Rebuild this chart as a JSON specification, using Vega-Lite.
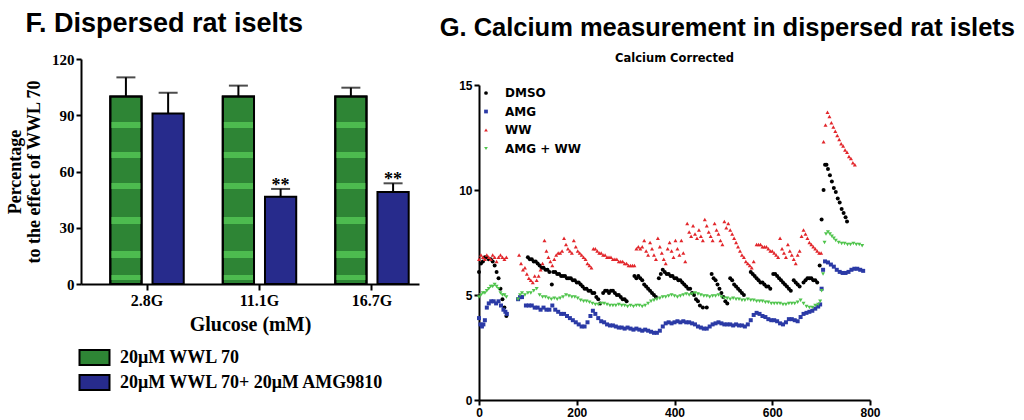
{
"$schema": "https://vega.github.io/schema/vega-lite/v6.json",
"background": "white",
"padding": {"left": 6, "top": 10, "right": 0, "bottom": 0},
"spacing": 20,
"columns": 2,
"align": "none",
"resolve": {"scale": {"color": "independent", "shape": "independent"}, "legend": {"color": "independent", "shape": "independent"}},
"config": {"view": {"stroke": null}, "axis": {"grid": false, "domainColor": "black", "tickColor": "black", "labelColor": "black", "titleColor": "black", "domainWidth": 2, "tickWidth": 2}},
"datasets": {
"bars": [
{"glucose": "2.8G", "treat": "20μM WWL 70", "v": 100, "hi": 110.2, "star": ""},
{"glucose": "2.8G", "treat": "20μM WWL 70+ 20μM AMG9810", "v": 91, "hi": 102, "star": ""},
{"glucose": "11.1G", "treat": "20μM WWL 70", "v": 100, "hi": 105.8, "star": ""},
{"glucose": "11.1G", "treat": "20μM WWL 70+ 20μM AMG9810", "v": 46.6, "hi": 50.7, "star": "**"},
{"glucose": "16.7G", "treat": "20μM WWL 70", "v": 100, "hi": 104.7, "star": ""},
{"glucose": "16.7G", "treat": "20μM WWL 70+ 20μM AMG9810", "v": 49.1, "hi": 53.7, "star": "**"}
],
"sub": [{"label": "Calcium Corrected"}],
"ca": [
{"s":"DMSO","t":0,"v":6.1},{"s":"DMSO","t":4,"v":6.5},{"s":"DMSO","t":8,"v":6.6},{"s":"DMSO","t":12,"v":6.8},{"s":"DMSO","t":16,"v":6.8},{"s":"DMSO","t":20,"v":6.7},{"s":"DMSO","t":24,"v":6.7},{"s":"DMSO","t":28,"v":6.6},{"s":"DMSO","t":32,"v":6.4},{"s":"DMSO","t":36,"v":6.1},{"s":"DMSO","t":40,"v":5.8},{"s":"DMSO","t":44,"v":5.3},{"s":"DMSO","t":48,"v":4.8},{"s":"DMSO","t":52,"v":4.4},{"s":"DMSO","t":56,"v":4.0},
{"s":"DMSO","t":100,"v":6.8},{"s":"DMSO","t":104,"v":6.7},{"s":"DMSO","t":108,"v":6.7},{"s":"DMSO","t":112,"v":6.6},{"s":"DMSO","t":116,"v":6.6},{"s":"DMSO","t":120,"v":6.5},{"s":"DMSO","t":124,"v":6.4},{"s":"DMSO","t":128,"v":6.3},{"s":"DMSO","t":132,"v":6.3},{"s":"DMSO","t":136,"v":6.2},{"s":"DMSO","t":140,"v":6.2},{"s":"DMSO","t":144,"v":6.1},{"s":"DMSO","t":149,"v":5.5},{"s":"DMSO","t":152,"v":6.1},{"s":"DMSO","t":156,"v":6.1},{"s":"DMSO","t":160,"v":6.0},{"s":"DMSO","t":164,"v":6.0},{"s":"DMSO","t":168,"v":5.9},{"s":"DMSO","t":172,"v":5.9},{"s":"DMSO","t":176,"v":5.9},{"s":"DMSO","t":180,"v":5.8},{"s":"DMSO","t":184,"v":5.8},{"s":"DMSO","t":188,"v":5.8},{"s":"DMSO","t":192,"v":5.7},{"s":"DMSO","t":196,"v":5.7},{"s":"DMSO","t":200,"v":5.6},{"s":"DMSO","t":204,"v":5.6},{"s":"DMSO","t":208,"v":5.5},{"s":"DMSO","t":212,"v":5.4},{"s":"DMSO","t":216,"v":5.3},{"s":"DMSO","t":220,"v":5.3},{"s":"DMSO","t":224,"v":5.2},{"s":"DMSO","t":228,"v":5.2},{"s":"DMSO","t":232,"v":5.1},{"s":"DMSO","t":236,"v":5.1},{"s":"DMSO","t":240,"v":4.9},{"s":"DMSO","t":244,"v":4.8},{"s":"DMSO","t":248,"v":4.6},
{"s":"DMSO","t":254,"v":5.1},{"s":"DMSO","t":258,"v":5.2},{"s":"DMSO","t":262,"v":5.2},{"s":"DMSO","t":266,"v":5.1},{"s":"DMSO","t":270,"v":5.2},{"s":"DMSO","t":274,"v":5.2},{"s":"DMSO","t":278,"v":5.1},{"s":"DMSO","t":282,"v":5.0},{"s":"DMSO","t":286,"v":5.0},{"s":"DMSO","t":290,"v":4.9},{"s":"DMSO","t":294,"v":4.8},{"s":"DMSO","t":298,"v":4.8},{"s":"DMSO","t":302,"v":4.7},
{"s":"DMSO","t":318,"v":5.9},{"s":"DMSO","t":322,"v":5.8},{"s":"DMSO","t":326,"v":5.9},{"s":"DMSO","t":330,"v":5.8},{"s":"DMSO","t":334,"v":5.7},{"s":"DMSO","t":338,"v":5.5},{"s":"DMSO","t":342,"v":5.4},{"s":"DMSO","t":346,"v":5.3},{"s":"DMSO","t":350,"v":5.2},{"s":"DMSO","t":354,"v":5.1},{"s":"DMSO","t":358,"v":5.0},{"s":"DMSO","t":362,"v":4.9},
{"s":"DMSO","t":368,"v":5.8},{"s":"DMSO","t":372,"v":6.0},{"s":"DMSO","t":376,"v":6.2},{"s":"DMSO","t":380,"v":6.1},{"s":"DMSO","t":384,"v":6.0},{"s":"DMSO","t":388,"v":6.0},{"s":"DMSO","t":392,"v":5.9},{"s":"DMSO","t":396,"v":5.9},{"s":"DMSO","t":400,"v":5.8},{"s":"DMSO","t":404,"v":5.8},{"s":"DMSO","t":408,"v":5.7},{"s":"DMSO","t":412,"v":5.7},{"s":"DMSO","t":416,"v":5.6},{"s":"DMSO","t":420,"v":5.5},{"s":"DMSO","t":424,"v":5.4},{"s":"DMSO","t":428,"v":5.3},{"s":"DMSO","t":432,"v":5.3},{"s":"DMSO","t":436,"v":5.1},{"s":"DMSO","t":440,"v":5.0},{"s":"DMSO","t":444,"v":4.8},{"s":"DMSO","t":448,"v":4.7},{"s":"DMSO","t":452,"v":4.5},{"s":"DMSO","t":458,"v":4.4},{"s":"DMSO","t":466,"v":4.4},
{"s":"DMSO","t":476,"v":6.0},{"s":"DMSO","t":480,"v":5.8},{"s":"DMSO","t":484,"v":5.7},{"s":"DMSO","t":488,"v":5.5},{"s":"DMSO","t":492,"v":5.3},{"s":"DMSO","t":496,"v":5.1},{"s":"DMSO","t":500,"v":4.9},{"s":"DMSO","t":504,"v":4.7},{"s":"DMSO","t":508,"v":4.6},
{"s":"DMSO","t":514,"v":5.8},{"s":"DMSO","t":518,"v":5.7},{"s":"DMSO","t":522,"v":5.5},{"s":"DMSO","t":526,"v":5.4},{"s":"DMSO","t":530,"v":5.3},{"s":"DMSO","t":534,"v":5.2},{"s":"DMSO","t":538,"v":5.1},{"s":"DMSO","t":542,"v":5.0},
{"s":"DMSO","t":556,"v":6.1},{"s":"DMSO","t":560,"v":6.0},{"s":"DMSO","t":564,"v":5.9},{"s":"DMSO","t":568,"v":5.8},{"s":"DMSO","t":572,"v":5.7},{"s":"DMSO","t":576,"v":5.6},{"s":"DMSO","t":580,"v":5.6},{"s":"DMSO","t":584,"v":5.5},{"s":"DMSO","t":588,"v":5.4},{"s":"DMSO","t":592,"v":5.4},{"s":"DMSO","t":596,"v":5.3},
{"s":"DMSO","t":602,"v":6.0},{"s":"DMSO","t":606,"v":6.0},{"s":"DMSO","t":610,"v":5.9},{"s":"DMSO","t":614,"v":5.8},{"s":"DMSO","t":618,"v":5.7},{"s":"DMSO","t":622,"v":5.6},{"s":"DMSO","t":626,"v":5.5},{"s":"DMSO","t":630,"v":5.4},{"s":"DMSO","t":634,"v":5.3},{"s":"DMSO","t":638,"v":5.2},
{"s":"DMSO","t":644,"v":5.7},{"s":"DMSO","t":648,"v":5.6},{"s":"DMSO","t":652,"v":5.5},{"s":"DMSO","t":656,"v":5.4},
{"s":"DMSO","t":664,"v":5.6},{"s":"DMSO","t":668,"v":5.7},{"s":"DMSO","t":672,"v":5.8},{"s":"DMSO","t":676,"v":5.8},{"s":"DMSO","t":680,"v":5.8},{"s":"DMSO","t":684,"v":5.7},{"s":"DMSO","t":688,"v":5.7},{"s":"DMSO","t":692,"v":5.6},
{"s":"DMSO","t":697,"v":6.4},{"s":"DMSO","t":701,"v":8.6},{"s":"DMSO","t":705,"v":10.0},{"s":"DMSO","t":708,"v":11.2},{"s":"DMSO","t":711,"v":11.2},{"s":"DMSO","t":714,"v":11.0},{"s":"DMSO","t":718,"v":10.7},{"s":"DMSO","t":722,"v":10.4},{"s":"DMSO","t":726,"v":10.1},{"s":"DMSO","t":730,"v":9.9},{"s":"DMSO","t":734,"v":9.6},{"s":"DMSO","t":738,"v":9.4},{"s":"DMSO","t":742,"v":9.1},{"s":"DMSO","t":746,"v":8.9},{"s":"DMSO","t":750,"v":8.7},{"s":"DMSO","t":753,"v":8.5},

{"s":"AMG","t":0,"v":3.9},{"s":"AMG","t":3,"v":3.6},{"s":"AMG","t":6,"v":3.5},{"s":"AMG","t":9,"v":3.6},{"s":"AMG","t":12,"v":3.8},{"s":"AMG","t":16,"v":4.4},{"s":"AMG","t":20,"v":4.6},{"s":"AMG","t":25,"v":4.7},{"s":"AMG","t":30,"v":4.7},{"s":"AMG","t":35,"v":4.6},{"s":"AMG","t":40,"v":4.7},{"s":"AMG","t":45,"v":4.5},{"s":"AMG","t":50,"v":4.3},{"s":"AMG","t":54,"v":4.2},{"s":"AMG","t":57,"v":4.1},
{"s":"AMG","t":80,"v":4.8},{"s":"AMG","t":84,"v":4.9},{"s":"AMG","t":88,"v":4.9},
{"s":"AMG","t":96,"v":4.5},{"s":"AMG","t":102,"v":4.5},{"s":"AMG","t":108,"v":4.5},{"s":"AMG","t":114,"v":4.4},{"s":"AMG","t":120,"v":4.4},{"s":"AMG","t":126,"v":4.3},{"s":"AMG","t":132,"v":4.4},{"s":"AMG","t":138,"v":4.3},{"s":"AMG","t":144,"v":4.3},{"s":"AMG","t":150,"v":4.5},{"s":"AMG","t":156,"v":4.3},{"s":"AMG","t":162,"v":4.2},{"s":"AMG","t":168,"v":4.1},{"s":"AMG","t":174,"v":4.1},{"s":"AMG","t":180,"v":4.0},{"s":"AMG","t":186,"v":3.9},{"s":"AMG","t":192,"v":3.8},{"s":"AMG","t":198,"v":3.7},{"s":"AMG","t":204,"v":3.6},{"s":"AMG","t":210,"v":3.5},{"s":"AMG","t":216,"v":3.5},{"s":"AMG","t":222,"v":3.7},{"s":"AMG","t":228,"v":4.0},{"s":"AMG","t":233,"v":4.25},{"s":"AMG","t":238,"v":4.1},{"s":"AMG","t":244,"v":3.9},{"s":"AMG","t":250,"v":3.75},{"s":"AMG","t":256,"v":3.7},{"s":"AMG","t":262,"v":3.6},{"s":"AMG","t":268,"v":3.55},{"s":"AMG","t":274,"v":3.55},{"s":"AMG","t":280,"v":3.5},{"s":"AMG","t":286,"v":3.45},{"s":"AMG","t":292,"v":3.45},{"s":"AMG","t":298,"v":3.4},{"s":"AMG","t":304,"v":3.45},{"s":"AMG","t":310,"v":3.4},{"s":"AMG","t":316,"v":3.35},{"s":"AMG","t":322,"v":3.4},{"s":"AMG","t":328,"v":3.35},{"s":"AMG","t":334,"v":3.3},{"s":"AMG","t":340,"v":3.35},{"s":"AMG","t":346,"v":3.3},{"s":"AMG","t":352,"v":3.25},{"s":"AMG","t":358,"v":3.2},{"s":"AMG","t":364,"v":3.2},{"s":"AMG","t":370,"v":3.3},{"s":"AMG","t":376,"v":3.5},{"s":"AMG","t":382,"v":3.65},{"s":"AMG","t":388,"v":3.7},{"s":"AMG","t":394,"v":3.65},{"s":"AMG","t":400,"v":3.7},{"s":"AMG","t":406,"v":3.75},{"s":"AMG","t":412,"v":3.7},{"s":"AMG","t":418,"v":3.75},{"s":"AMG","t":424,"v":3.7},{"s":"AMG","t":430,"v":3.7},{"s":"AMG","t":436,"v":3.65},{"s":"AMG","t":442,"v":3.6},{"s":"AMG","t":448,"v":3.5},{"s":"AMG","t":454,"v":3.45},{"s":"AMG","t":460,"v":3.4},{"s":"AMG","t":466,"v":3.4},{"s":"AMG","t":472,"v":3.5},{"s":"AMG","t":478,"v":3.6},{"s":"AMG","t":484,"v":3.65},{"s":"AMG","t":490,"v":3.7},{"s":"AMG","t":496,"v":3.65},{"s":"AMG","t":502,"v":3.6},{"s":"AMG","t":508,"v":3.6},{"s":"AMG","t":514,"v":3.6},{"s":"AMG","t":520,"v":3.55},{"s":"AMG","t":526,"v":3.6},{"s":"AMG","t":532,"v":3.55},{"s":"AMG","t":538,"v":3.55},{"s":"AMG","t":544,"v":3.5},{"s":"AMG","t":550,"v":3.6},{"s":"AMG","t":556,"v":3.8},{"s":"AMG","t":562,"v":4.05},{"s":"AMG","t":568,"v":4.15},{"s":"AMG","t":574,"v":4.1},{"s":"AMG","t":580,"v":4.0},{"s":"AMG","t":586,"v":3.95},{"s":"AMG","t":592,"v":3.85},{"s":"AMG","t":598,"v":3.8},{"s":"AMG","t":604,"v":3.8},{"s":"AMG","t":610,"v":3.75},{"s":"AMG","t":616,"v":3.65},{"s":"AMG","t":622,"v":3.6},{"s":"AMG","t":628,"v":3.7},{"s":"AMG","t":634,"v":3.85},{"s":"AMG","t":640,"v":3.85},{"s":"AMG","t":646,"v":3.8},{"s":"AMG","t":652,"v":3.75},{"s":"AMG","t":658,"v":3.95},{"s":"AMG","t":664,"v":4.1},{"s":"AMG","t":670,"v":4.15},{"s":"AMG","t":676,"v":4.2},{"s":"AMG","t":682,"v":4.25},{"s":"AMG","t":688,"v":4.35},{"s":"AMG","t":694,"v":4.45},{"s":"AMG","t":698,"v":4.55},{"s":"AMG","t":701,"v":5.3},{"s":"AMG","t":704,"v":6.2},{"s":"AMG","t":708,"v":6.6},{"s":"AMG","t":714,"v":6.55},{"s":"AMG","t":720,"v":6.45},{"s":"AMG","t":726,"v":6.35},{"s":"AMG","t":732,"v":6.2},{"s":"AMG","t":738,"v":6.1},{"s":"AMG","t":744,"v":6.05},{"s":"AMG","t":750,"v":6.05},{"s":"AMG","t":756,"v":6.1},{"s":"AMG","t":762,"v":6.2},{"s":"AMG","t":768,"v":6.25},{"s":"AMG","t":774,"v":6.25},{"s":"AMG","t":780,"v":6.2},{"s":"AMG","t":786,"v":6.15},

{"s":"WW","t":0,"v":6.7},{"s":"WW","t":4,"v":6.9},{"s":"WW","t":8,"v":6.8},{"s":"WW","t":12,"v":6.7},{"s":"WW","t":16,"v":6.9},{"s":"WW","t":20,"v":6.8},{"s":"WW","t":24,"v":6.7},{"s":"WW","t":28,"v":6.9},{"s":"WW","t":32,"v":6.8},{"s":"WW","t":36,"v":6.6},{"s":"WW","t":40,"v":6.8},{"s":"WW","t":44,"v":6.9},{"s":"WW","t":48,"v":6.8},{"s":"WW","t":52,"v":6.7},{"s":"WW","t":56,"v":6.8},
{"s":"WW","t":82,"v":6.9},{"s":"WW","t":86,"v":6.5},{"s":"WW","t":90,"v":6.2},{"s":"WW","t":94,"v":6.3},{"s":"WW","t":98,"v":6.0},{"s":"WW","t":102,"v":5.8},{"s":"WW","t":106,"v":5.7},{"s":"WW","t":110,"v":5.6},{"s":"WW","t":114,"v":5.9},{"s":"WW","t":118,"v":5.7},{"s":"WW","t":122,"v":5.9},
{"s":"WW","t":126,"v":6.2},{"s":"WW","t":130,"v":6.5},{"s":"WW","t":134,"v":7.6},{"s":"WW","t":138,"v":7.1},{"s":"WW","t":142,"v":6.8},{"s":"WW","t":146,"v":6.6},{"s":"WW","t":150,"v":6.4},{"s":"WW","t":154,"v":6.7},{"s":"WW","t":158,"v":6.9},{"s":"WW","t":162,"v":7.0},{"s":"WW","t":166,"v":7.0},{"s":"WW","t":170,"v":7.1},{"s":"WW","t":174,"v":7.7},{"s":"WW","t":178,"v":7.4},{"s":"WW","t":182,"v":7.2},{"s":"WW","t":186,"v":7.1},{"s":"WW","t":190,"v":7.0},{"s":"WW","t":194,"v":7.6},{"s":"WW","t":198,"v":7.3},{"s":"WW","t":202,"v":7.1},{"s":"WW","t":206,"v":7.0},{"s":"WW","t":210,"v":6.9},{"s":"WW","t":214,"v":6.8},{"s":"WW","t":218,"v":6.7},{"s":"WW","t":222,"v":6.5},{"s":"WW","t":226,"v":6.4},{"s":"WW","t":230,"v":6.3},
{"s":"WW","t":234,"v":7.2},{"s":"WW","t":238,"v":7.2},{"s":"WW","t":242,"v":7.1},{"s":"WW","t":246,"v":7.0},{"s":"WW","t":250,"v":7.0},{"s":"WW","t":254,"v":6.9},{"s":"WW","t":258,"v":6.9},{"s":"WW","t":262,"v":6.8},{"s":"WW","t":266,"v":6.8},{"s":"WW","t":270,"v":6.8},{"s":"WW","t":274,"v":6.7},{"s":"WW","t":278,"v":6.7},{"s":"WW","t":282,"v":6.7},{"s":"WW","t":286,"v":6.6},{"s":"WW","t":290,"v":6.6},{"s":"WW","t":294,"v":6.6},{"s":"WW","t":298,"v":6.5},{"s":"WW","t":302,"v":6.5},{"s":"WW","t":306,"v":6.4},{"s":"WW","t":310,"v":6.4},{"s":"WW","t":314,"v":6.4},{"s":"WW","t":318,"v":6.4},
{"s":"WW","t":322,"v":7.2},{"s":"WW","t":326,"v":7.3},{"s":"WW","t":330,"v":7.2},{"s":"WW","t":334,"v":7.3},{"s":"WW","t":338,"v":7.6},{"s":"WW","t":342,"v":7.1},{"s":"WW","t":346,"v":6.9},{"s":"WW","t":350,"v":7.5},{"s":"WW","t":354,"v":7.2},{"s":"WW","t":358,"v":6.9},{"s":"WW","t":362,"v":6.7},{"s":"WW","t":366,"v":7.7},{"s":"WW","t":370,"v":7.3},{"s":"WW","t":374,"v":7.0},{"s":"WW","t":378,"v":6.7},{"s":"WW","t":382,"v":6.5},{"s":"WW","t":386,"v":7.2},{"s":"WW","t":390,"v":7.5},{"s":"WW","t":394,"v":7.1},{"s":"WW","t":398,"v":6.8},{"s":"WW","t":402,"v":7.6},{"s":"WW","t":406,"v":7.2},{"s":"WW","t":410,"v":6.9},{"s":"WW","t":414,"v":7.6},{"s":"WW","t":418,"v":7.0},{"s":"WW","t":422,"v":6.6},
{"s":"WW","t":426,"v":8.4},{"s":"WW","t":430,"v":8.0},{"s":"WW","t":434,"v":7.8},{"s":"WW","t":438,"v":8.3},{"s":"WW","t":442,"v":7.9},{"s":"WW","t":446,"v":7.7},{"s":"WW","t":450,"v":8.1},{"s":"WW","t":454,"v":7.8},{"s":"WW","t":458,"v":7.6},{"s":"WW","t":462,"v":8.6},{"s":"WW","t":466,"v":8.3},{"s":"WW","t":470,"v":8.0},{"s":"WW","t":474,"v":7.8},{"s":"WW","t":478,"v":7.6},{"s":"WW","t":482,"v":8.4},{"s":"WW","t":486,"v":8.1},{"s":"WW","t":490,"v":7.9},{"s":"WW","t":494,"v":7.6},{"s":"WW","t":498,"v":7.4},{"s":"WW","t":502,"v":8.5},{"s":"WW","t":506,"v":8.2},{"s":"WW","t":510,"v":8.4},{"s":"WW","t":514,"v":8.1},{"s":"WW","t":518,"v":7.9},{"s":"WW","t":522,"v":7.7},{"s":"WW","t":526,"v":7.5},{"s":"WW","t":530,"v":7.3},{"s":"WW","t":534,"v":7.1},{"s":"WW","t":538,"v":6.9},{"s":"WW","t":542,"v":6.8},{"s":"WW","t":546,"v":6.6},{"s":"WW","t":550,"v":6.5},{"s":"WW","t":554,"v":6.4},{"s":"WW","t":558,"v":6.3},{"s":"WW","t":562,"v":6.6},
{"s":"WW","t":568,"v":7.4},{"s":"WW","t":572,"v":7.4},{"s":"WW","t":576,"v":7.4},{"s":"WW","t":580,"v":7.3},{"s":"WW","t":584,"v":7.3},{"s":"WW","t":588,"v":7.3},{"s":"WW","t":592,"v":7.2},{"s":"WW","t":596,"v":7.1},{"s":"WW","t":600,"v":7.1},{"s":"WW","t":604,"v":7.0},{"s":"WW","t":608,"v":6.9},{"s":"WW","t":612,"v":6.8},{"s":"WW","t":616,"v":7.7},{"s":"WW","t":620,"v":7.2},{"s":"WW","t":624,"v":7.0},{"s":"WW","t":628,"v":6.8},{"s":"WW","t":632,"v":7.4},{"s":"WW","t":636,"v":7.1},{"s":"WW","t":640,"v":6.9},{"s":"WW","t":644,"v":6.7},{"s":"WW","t":648,"v":6.5},{"s":"WW","t":652,"v":6.9},{"s":"WW","t":656,"v":7.1},{"s":"WW","t":660,"v":7.8},{"s":"WW","t":664,"v":8.1},{"s":"WW","t":668,"v":7.9},{"s":"WW","t":672,"v":7.7},{"s":"WW","t":676,"v":7.5},{"s":"WW","t":680,"v":7.4},{"s":"WW","t":684,"v":7.3},{"s":"WW","t":688,"v":7.2},{"s":"WW","t":692,"v":7.1},{"s":"WW","t":696,"v":7.0},{"s":"WW","t":700,"v":7.0},
{"s":"WW","t":705,"v":12.3},{"s":"WW","t":709,"v":13.1},{"s":"WW","t":713,"v":13.7},{"s":"WW","t":717,"v":13.5},{"s":"WW","t":721,"v":13.2},{"s":"WW","t":725,"v":13.0},{"s":"WW","t":729,"v":12.8},{"s":"WW","t":733,"v":12.6},{"s":"WW","t":737,"v":12.4},{"s":"WW","t":741,"v":12.2},{"s":"WW","t":745,"v":12.1},{"s":"WW","t":749,"v":11.9},{"s":"WW","t":753,"v":11.8},{"s":"WW","t":757,"v":11.6},{"s":"WW","t":761,"v":11.5},{"s":"WW","t":765,"v":11.3},{"s":"WW","t":769,"v":11.2},

{"s":"AMG + WW","t":0,"v":4.9},{"s":"AMG + WW","t":4,"v":5.0},{"s":"AMG + WW","t":8,"v":5.1},{"s":"AMG + WW","t":12,"v":5.1},{"s":"AMG + WW","t":16,"v":5.2},{"s":"AMG + WW","t":20,"v":5.3},{"s":"AMG + WW","t":24,"v":5.4},{"s":"AMG + WW","t":28,"v":5.4},{"s":"AMG + WW","t":32,"v":5.5},{"s":"AMG + WW","t":36,"v":5.4},{"s":"AMG + WW","t":40,"v":5.3},{"s":"AMG + WW","t":44,"v":5.1},{"s":"AMG + WW","t":48,"v":5.0},{"s":"AMG + WW","t":52,"v":5.0},{"s":"AMG + WW","t":56,"v":4.9},
{"s":"AMG + WW","t":80,"v":4.8},{"s":"AMG + WW","t":84,"v":5.0},{"s":"AMG + WW","t":88,"v":5.1},{"s":"AMG + WW","t":94,"v":5.0},{"s":"AMG + WW","t":100,"v":5.1},{"s":"AMG + WW","t":106,"v":5.1},{"s":"AMG + WW","t":112,"v":5.2},{"s":"AMG + WW","t":118,"v":5.3},{"s":"AMG + WW","t":124,"v":5.0},{"s":"AMG + WW","t":130,"v":4.9},{"s":"AMG + WW","t":136,"v":4.9},{"s":"AMG + WW","t":142,"v":4.85},{"s":"AMG + WW","t":148,"v":4.8},{"s":"AMG + WW","t":154,"v":4.85},{"s":"AMG + WW","t":160,"v":4.8},{"s":"AMG + WW","t":166,"v":4.85},{"s":"AMG + WW","t":172,"v":4.9},{"s":"AMG + WW","t":178,"v":5.0},{"s":"AMG + WW","t":184,"v":4.95},{"s":"AMG + WW","t":190,"v":4.9},{"s":"AMG + WW","t":196,"v":4.9},{"s":"AMG + WW","t":202,"v":4.85},{"s":"AMG + WW","t":208,"v":4.75},{"s":"AMG + WW","t":214,"v":4.7},{"s":"AMG + WW","t":220,"v":4.7},{"s":"AMG + WW","t":226,"v":4.65},{"s":"AMG + WW","t":232,"v":4.6},{"s":"AMG + WW","t":238,"v":4.55},{"s":"AMG + WW","t":244,"v":4.55},{"s":"AMG + WW","t":250,"v":4.6},{"s":"AMG + WW","t":256,"v":4.6},{"s":"AMG + WW","t":262,"v":4.55},{"s":"AMG + WW","t":268,"v":4.5},{"s":"AMG + WW","t":274,"v":4.5},{"s":"AMG + WW","t":280,"v":4.5},{"s":"AMG + WW","t":286,"v":4.55},{"s":"AMG + WW","t":292,"v":4.5},{"s":"AMG + WW","t":298,"v":4.5},{"s":"AMG + WW","t":304,"v":4.45},{"s":"AMG + WW","t":310,"v":4.5},{"s":"AMG + WW","t":316,"v":4.45},{"s":"AMG + WW","t":322,"v":4.5},{"s":"AMG + WW","t":328,"v":4.5},{"s":"AMG + WW","t":334,"v":4.45},{"s":"AMG + WW","t":340,"v":4.5},{"s":"AMG + WW","t":346,"v":4.6},{"s":"AMG + WW","t":352,"v":4.7},{"s":"AMG + WW","t":358,"v":4.75},{"s":"AMG + WW","t":364,"v":4.8},{"s":"AMG + WW","t":370,"v":4.85},{"s":"AMG + WW","t":376,"v":4.9},{"s":"AMG + WW","t":382,"v":4.9},{"s":"AMG + WW","t":388,"v":4.95},{"s":"AMG + WW","t":394,"v":5.0},{"s":"AMG + WW","t":400,"v":4.95},{"s":"AMG + WW","t":406,"v":4.9},{"s":"AMG + WW","t":412,"v":4.95},{"s":"AMG + WW","t":418,"v":5.0},{"s":"AMG + WW","t":424,"v":5.05},{"s":"AMG + WW","t":430,"v":5.0},{"s":"AMG + WW","t":436,"v":5.05},{"s":"AMG + WW","t":442,"v":5.1},{"s":"AMG + WW","t":448,"v":5.05},{"s":"AMG + WW","t":454,"v":5.0},{"s":"AMG + WW","t":460,"v":4.95},{"s":"AMG + WW","t":466,"v":4.95},{"s":"AMG + WW","t":472,"v":4.9},{"s":"AMG + WW","t":478,"v":4.95},{"s":"AMG + WW","t":484,"v":4.95},{"s":"AMG + WW","t":490,"v":5.0},{"s":"AMG + WW","t":496,"v":4.9},{"s":"AMG + WW","t":502,"v":4.85},{"s":"AMG + WW","t":508,"v":4.85},{"s":"AMG + WW","t":514,"v":4.8},{"s":"AMG + WW","t":520,"v":4.85},{"s":"AMG + WW","t":526,"v":4.8},{"s":"AMG + WW","t":532,"v":4.8},{"s":"AMG + WW","t":538,"v":4.75},{"s":"AMG + WW","t":544,"v":4.75},{"s":"AMG + WW","t":550,"v":4.8},{"s":"AMG + WW","t":556,"v":4.75},{"s":"AMG + WW","t":562,"v":4.75},{"s":"AMG + WW","t":568,"v":4.7},{"s":"AMG + WW","t":574,"v":4.7},{"s":"AMG + WW","t":580,"v":4.7},{"s":"AMG + WW","t":586,"v":4.65},{"s":"AMG + WW","t":592,"v":4.65},{"s":"AMG + WW","t":598,"v":4.6},{"s":"AMG + WW","t":604,"v":4.6},{"s":"AMG + WW","t":610,"v":4.6},{"s":"AMG + WW","t":616,"v":4.6},{"s":"AMG + WW","t":622,"v":4.55},{"s":"AMG + WW","t":628,"v":4.55},{"s":"AMG + WW","t":634,"v":4.6},{"s":"AMG + WW","t":640,"v":4.6},{"s":"AMG + WW","t":646,"v":4.6},{"s":"AMG + WW","t":652,"v":4.65},{"s":"AMG + WW","t":658,"v":4.75},{"s":"AMG + WW","t":664,"v":4.6},{"s":"AMG + WW","t":670,"v":4.45},{"s":"AMG + WW","t":676,"v":4.4},{"s":"AMG + WW","t":682,"v":4.4},{"s":"AMG + WW","t":688,"v":4.5},{"s":"AMG + WW","t":694,"v":4.55},{"s":"AMG + WW","t":698,"v":4.7},{"s":"AMG + WW","t":701,"v":5.2},{"s":"AMG + WW","t":704,"v":6.0},{"s":"AMG + WW","t":707,"v":7.5},{"s":"AMG + WW","t":710,"v":7.9},{"s":"AMG + WW","t":714,"v":8.0},{"s":"AMG + WW","t":718,"v":7.9},{"s":"AMG + WW","t":722,"v":7.8},{"s":"AMG + WW","t":726,"v":7.7},{"s":"AMG + WW","t":730,"v":7.6},{"s":"AMG + WW","t":736,"v":7.5},{"s":"AMG + WW","t":742,"v":7.45},{"s":"AMG + WW","t":748,"v":7.45},{"s":"AMG + WW","t":754,"v":7.4},{"s":"AMG + WW","t":760,"v":7.4},{"s":"AMG + WW","t":766,"v":7.45},{"s":"AMG + WW","t":772,"v":7.4},{"s":"AMG + WW","t":778,"v":7.4},{"s":"AMG + WW","t":784,"v":7.35}
]
},
"concat": [
{
"width": 338, "height": 225,
"title": {"text": "F. Dispersed rat iselts", "anchor": "start", "frame": "bounds", "font": "Liberation Sans", "fontSize": 27, "fontWeight": "bold", "color": "black", "offset": 14, "dx": 19},
"data": {"name": "bars"},
"encoding": {
"x": {"field": "glucose", "type": "nominal", "sort": ["2.8G", "11.1G", "16.7G"], "scale": {"paddingInner": 0.347, "paddingOuter": 0.176, "align": 0.74}, "axis": {"title": "Glucose (mM)", "labelAngle": 0, "labelFont": "Liberation Serif", "labelFontSize": 16, "labelFontWeight": "bold", "tickSize": 6, "labelPadding": 2, "titleFont": "Liberation Serif", "titleFontSize": 20, "titleFontWeight": "bold", "titlePadding": 6}},
"xOffset": {"field": "treat", "type": "nominal", "sort": ["20μM WWL 70", "20μM WWL 70+ 20μM AMG9810"], "scale": {"paddingInner": 0.26}}
},
"layer": [
{"mark": {"type": "bar", "stroke": "black", "strokeWidth": 2},
 "encoding": {
 "y": {"field": "v", "type": "quantitative", "scale": {"domain": [0, 120]}, "title": ["Percentage", "to the effect of WWL 70"], "axis": {"values": [0, 30, 60, 90, 120], "titleFont": "Liberation Serif", "titleFontSize": 18, "titleFontWeight": "bold", "titleLineHeight": 19, "labelFont": "Liberation Serif", "labelFontSize": 15, "labelFontWeight": "bold", "tickSize": 5, "labelPadding": 2, "titlePadding": 8}},
 "color": {"field": "treat", "type": "nominal", "scale": {"domain": ["20μM WWL 70", "20μM WWL 70+ 20μM AMG9810"], "range": ["#2e8535", "#272b8c"]}, "legend": {"title": null, "orient": "none", "legendX": 0, "legendY": 285, "direction": "vertical", "symbolType": "M-1.2,-0.6H1.2V0.6H-1.2Z", "symbolSize": 625, "symbolStrokeColor": "black", "symbolStrokeWidth": 2, "symbolOpacity": 1, "labelFont": "Liberation Serif", "labelFontSize": 18, "labelFontWeight": "bold", "labelColor": "black", "labelOffset": 12, "rowPadding": 0, "padding": 0, "labelLimit": 400}}
 }},
{"transform": [{"filter": "datum.treat === '20μM WWL 70'"}],
 "mark": {"type": "bar", "stroke": "black", "strokeWidth": 2, "fill": {"gradient": "linear", "x1": 0, "y1": 0, "x2": 0, "y2": 1, "stops": [
  {"offset": 0, "color": "rgba(90,210,90,0)"}, {"offset": 0.135, "color": "rgba(90,210,90,0)"}, {"offset": 0.135, "color": "rgba(90,210,90,0.7)"}, {"offset": 0.17, "color": "rgba(90,210,90,0.7)"}, {"offset": 0.17, "color": "rgba(90,210,90,0)"},
  {"offset": 0.295, "color": "rgba(90,210,90,0)"}, {"offset": 0.295, "color": "rgba(90,210,90,0.7)"}, {"offset": 0.33, "color": "rgba(90,210,90,0.7)"}, {"offset": 0.33, "color": "rgba(90,210,90,0)"},
  {"offset": 0.46, "color": "rgba(90,210,90,0)"}, {"offset": 0.46, "color": "rgba(90,210,90,0.7)"}, {"offset": 0.495, "color": "rgba(90,210,90,0.7)"}, {"offset": 0.495, "color": "rgba(90,210,90,0)"},
  {"offset": 0.645, "color": "rgba(90,210,90,0)"}, {"offset": 0.645, "color": "rgba(90,210,90,0.7)"}, {"offset": 0.68, "color": "rgba(90,210,90,0.7)"}, {"offset": 0.68, "color": "rgba(90,210,90,0)"},
  {"offset": 0.825, "color": "rgba(90,210,90,0)"}, {"offset": 0.825, "color": "rgba(90,210,90,0.7)"}, {"offset": 0.86, "color": "rgba(90,210,90,0.7)"}, {"offset": 0.86, "color": "rgba(90,210,90,0)"},
  {"offset": 0.95, "color": "rgba(90,210,90,0)"}, {"offset": 0.95, "color": "rgba(90,210,90,0.7)"}, {"offset": 0.98, "color": "rgba(90,210,90,0.7)"}, {"offset": 0.98, "color": "rgba(90,210,90,0)"}, {"offset": 1, "color": "rgba(90,210,90,0)"}
 ]}},
 "encoding": {"y": {"field": "v", "type": "quantitative", "title": ["Percentage", "to the effect of WWL 70"]}}},
{"mark": {"type": "rule", "color": "black", "strokeWidth": 2},
 "encoding": {"y": {"field": "v", "type": "quantitative", "title": ["Percentage", "to the effect of WWL 70"]}, "y2": {"field": "hi"}}},
{"mark": {"type": "tick", "color": "black", "thickness": 2, "size": 19},
 "encoding": {"y": {"field": "hi", "type": "quantitative", "title": ["Percentage", "to the effect of WWL 70"]}}},
{"mark": {"type": "text", "font": "Liberation Serif", "fontSize": 18, "fontWeight": "bold", "baseline": "alphabetic", "dy": 2, "color": "black"},
 "encoding": {"y": {"field": "hi", "type": "quantitative", "title": ["Percentage", "to the effect of WWL 70"]}, "text": {"field": "star"}}}
]
},
{
"title": {"text": "G. Calcium measurement in dispersed rat islets", "anchor": "start", "font": "Liberation Sans", "fontSize": 25.5, "fontWeight": "bold", "color": "black", "dx": -19, "offset": 12},
"spacing": 14,
"vconcat": [
{
"width": 391, "height": 2,
"data": {"name": "sub"},
"mark": {"type": "text", "font": "DejaVu Sans", "fontSize": 11.5, "fontWeight": "bold", "color": "black", "dy": -1},
"encoding": {"text": {"field": "label"}}
},
{
"width": 391, "height": 315,
"data": {"name": "ca"},
"mark": {"type": "point", "filled": true, "size": 16, "opacity": 1},
"encoding": {
"x": {"field": "t", "type": "quantitative", "scale": {"domain": [0, 800], "nice": false}, "axis": {"values": [0, 200, 400, 600, 800], "title": null, "labelFont": "Liberation Sans", "labelFontSize": 12, "labelFontWeight": "bold", "tickSize": 5, "labelPadding": 2, "labelFlush": false}},
"y": {"field": "v", "type": "quantitative", "scale": {"domain": [0, 15], "nice": false}, "axis": {"values": [0, 5, 10, 15], "title": null, "labelFont": "Liberation Sans", "labelFontSize": 12, "labelFontWeight": "bold", "tickSize": 5, "labelPadding": 2, "labelFlush": false}},
"color": {"field": "s", "type": "nominal", "scale": {"domain": ["DMSO", "AMG", "WW", "AMG + WW"], "range": ["#000000", "#2b3aa6", "#e2262b", "#4fc44c"]}, "legend": {"title": null, "orient": "none", "legendX": 1, "legendY": 28, "labelFont": "DejaVu Sans", "labelFontSize": 12, "labelFontWeight": "bold", "labelColor": "black", "symbolSize": 14, "labelOffset": 13, "rowPadding": 6.5, "padding": 0}},
"shape": {"field": "s", "type": "nominal", "scale": {"domain": ["DMSO", "AMG", "WW", "AMG + WW"], "range": ["circle", "square", "triangle-up", "triangle-down"]}, "legend": {"title": null, "orient": "none", "legendX": 1, "legendY": 28, "labelFont": "DejaVu Sans", "labelFontSize": 12, "labelFontWeight": "bold", "labelColor": "black", "symbolSize": 14, "labelOffset": 13, "rowPadding": 6.5, "padding": 0}}
}
}
]
}
]
}
